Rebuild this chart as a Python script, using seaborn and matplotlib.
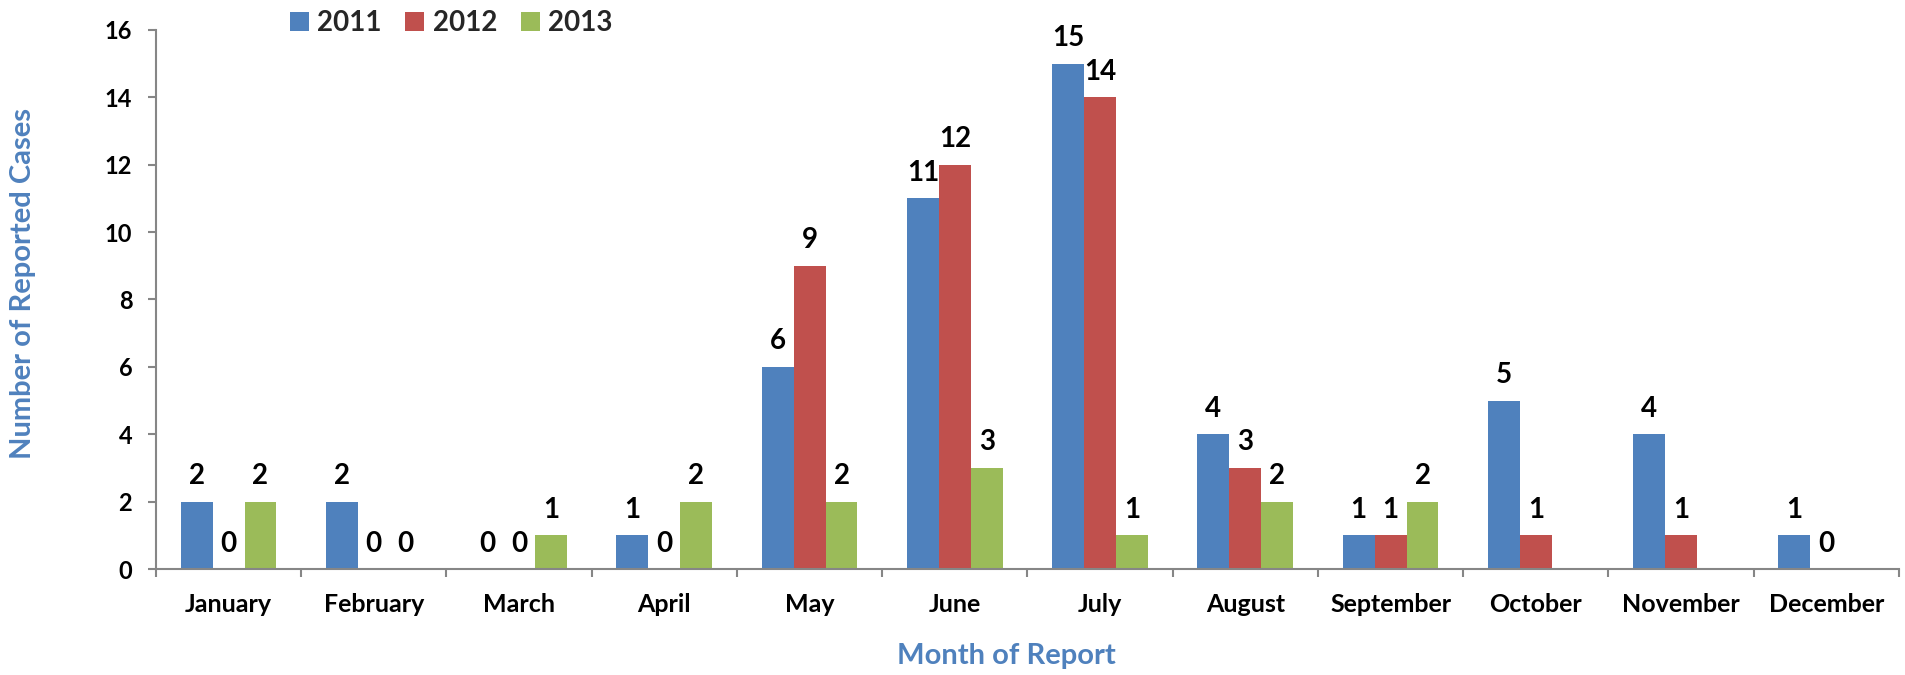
import matplotlib
matplotlib.use("Agg")
import matplotlib.pyplot as plt
import numpy as np
import pandas as pd
import seaborn as sns

# Monthly reported cases per year (2013 has no reports past September)
months = ["January", "February", "March", "April", "May", "June",
          "July", "August", "September", "October", "November", "December"]
years = ["2011", "2012", "2013"]
cases_2011 = [2, 2, 0, 1, 6, 11, 15, 4, 1, 5, 4, 1]
cases_2012 = [0, 0, 0, 0, 9, 12, 14, 3, 1, 1, 1, 0]
cases_2013 = [2, 0, 1, 2, 2, 3, 1, 2, 2, np.nan, np.nan, np.nan]
year_colors = ["#4F81BD", "#C0504D", "#9BBB59"]
y_ticks = [0, 2, 4, 6, 8, 10, 12, 14, 16]

df = pd.DataFrame({
    "Month": months * 3,
    "Year": [y for y in years for _ in months],
    "Cases": cases_2011 + cases_2012 + cases_2013,
})

sns.set_theme(style="white")
plt.rcParams["font.family"] = ["Lato", "DejaVu Sans"]
plt.rcParams["font.weight"] = "bold"

axis_gray = "#868686"
label_blue = "#4F81BD"

fig = plt.figure(figsize=(19.06, 6.75), dpi=100)
ax = fig.add_axes([0.0818, 0.157, 0.9145, 0.7986])

sns.barplot(data=df, x="Month", y="Cases", hue="Year", order=months, hue_order=years,
            palette=year_colors, saturation=1, width=0.66, errorbar=None,
            linewidth=0, ax=ax)

# value labels above every drawn bar, zeros included
for container in ax.containers:
    ax.bar_label(container, fmt="{:.0f}", padding=9, fontsize=20,
                 fontweight="bold", color="black", clip_on=False)

ax.set_ylim(0, 16)
ax.set_xlim(-0.5, 11.5)
ax.set_yticks(y_ticks)
ax.set_xticks(np.arange(-0.5, 12, 1), minor=True)

sns.despine(ax=ax)
for side in ["left", "bottom"]:
    ax.spines[side].set_color(axis_gray)
    ax.spines[side].set_linewidth(1.5)

ax.tick_params(axis="y", which="major", length=6, width=1.5, color=axis_gray,
               pad=11, labelsize=17, left=True)
ax.tick_params(axis="x", which="major", length=0, pad=17, labelsize=18)
ax.tick_params(axis="x", which="minor", length=6, width=1.5, color=axis_gray,
               bottom=True)
for lbl in ax.get_xticklabels() + ax.get_yticklabels():
    lbl.set_fontweight("bold")
    lbl.set_color("black")

ax.set_xlabel("Month of Report", fontsize=21, fontweight="bold", color=label_blue)
ax.set_ylabel("Number of Reported Cases", fontsize=21, fontweight="bold", color=label_blue)
ax.xaxis.label.set_va("center")
ax.yaxis.label.set_va("center")
ax.xaxis.set_label_coords(0.488, -0.161)
ax.yaxis.set_label_coords(-0.0765, 0.53)

sns.move_legend(ax, "center left", bbox_to_anchor=(0.077, 1.013), ncol=3,
                frameon=False, title=None, fontsize=20, handlelength=0.68,
                handleheight=0.7, handletextpad=0.3, columnspacing=0.85,
                borderpad=0, borderaxespad=0)
for t in ax.get_legend().get_texts():
    t.set_fontweight("bold")

fig.savefig("out.png", dpi=100)
